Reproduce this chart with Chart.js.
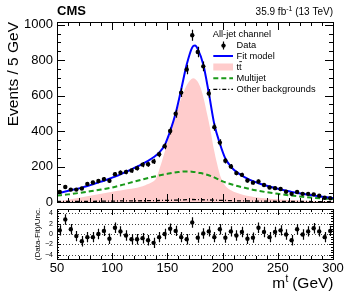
<!DOCTYPE html>
<html><head><meta charset="utf-8">
<script src="https://cdn.jsdelivr.net/npm/chart.js@4.4.1/dist/chart.umd.min.js"></script>
<style>
html,body{margin:0;padding:0;background:#fff;}
#wrap{position:relative;width:351px;height:298px;}
#wrap canvas{position:absolute;left:0;top:0;}
</style></head><body>
<div id="wrap">
<canvas id="main" width="351" height="298"></canvas>
<canvas id="ratio" width="351" height="298"></canvas>
</div>
<script>
// ---------------- data ----------------
const binCenters = [52.5,57.5,62.5,67.5,72.5,77.5,82.5,87.5,92.5,97.5,
  102.5,107.5,112.5,117.5,122.5,127.5,132.5,137.5,142.5,147.5,
  152.5,157.5,162.5,167.5,172.5,177.5,182.5,187.5,192.5,197.5,
  202.5,207.5,212.5,217.5,222.5,227.5,232.5,237.5,242.5,247.5,
  252.5,257.5,262.5,267.5,272.5,277.5,282.5,287.5,292.5,297.5];
const dataEvents = [56,85,70,70,76,102,110,118,129,120,
  157,165,169,178,191,211,213,229,269,315,
  400,498,617,747,940,846,765,612,422,335,
  233,200,163,153,121,109,116,96,82,78,
  73,58,46,56,46,46,43,35,24,21];
const dataErr = [7.5,9.2,8.4,8.4,8.7,10.1,10.5,10.9,11.4,11.0,
  12.5,12.8,13.0,13.3,13.8,14.5,14.6,15.1,16.4,17.7,
  20.0,22.3,24.8,27.3,30.7,29.1,27.7,24.7,20.5,18.3,
  15.3,14.1,12.8,12.4,11.0,10.4,10.8,9.8,9.1,8.8,
  8.5,7.6,6.8,7.5,6.8,6.8,6.6,5.9,4.9,4.6];
const pulls = [0.7,2.8,0.9,-0.4,-1.4,-0.6,-0.6,0.0,0.6,-0.9,
  1.2,0.5,-0.3,-1.0,-1.0,-0.8,-1.2,-1.7,-0.6,0.0,
  1.0,0.6,-0.6,-1.0,2.2,-0.7,0.1,0.5,-0.6,0.9,
  -0.7,0.5,-0.3,0.4,-0.9,-0.7,1.2,0.4,-0.6,0.4,
  0.7,-0.1,-1.2,0.9,-0.1,0.5,1.1,0.5,-0.6,0.6];
const pullErr = [1,1,1,1,1,1,1,1,1,1, 1,1,1,1,1,1,1,1,1,1, 1,1,1,1,1,1,1,1,1,1,
  1,1,1,1,1,1,1,1,1,1, 1,1,1,1,1,1,1,1,1,1];

const fitX = [50,52.5,57.5,62.5,67.5,72.5,77.5,82.5,87.5,92.5,97.5,
  102.5,107.5,112.5,117.5,122.5,127.5,132.5,137.5,142.5,147.5,
  152.5,157.5,162.5,167.5,172.5,175,177.5,182.5,187.5,192.5,197.5,
  202.5,207.5,212.5,217.5,222.5,227.5,232.5,237.5,242.5,247.5,
  252.5,257.5,262.5,267.5,272.5,277.5,282.5,287.5,292.5,297.5,300];
const fitY = [48,52,59,66,73,81,90,100,110,120,131,
  143,156,170,184,199,215,232,252,278,320,
  400,500,635,775,872,882,862,775,615,438,330,
  245,200,170,149,132,118,106,96,87,79,
  71,64,57,51,46,41,36,32,28,24,22];

const ttX = [50,55,60,65,70,75,80,85,90,95,100,105,110,115,120,125,130,135,140,143,146,150,155,160,165,170,173.5,
  177,180,183,186,189,192,195,198,201,204,208,212,216,222,230,240,250,260,270,280,290,300];
const ttY = [3,7,12,18,24,30,35,41,47,52,58,63,68,73,78,85,95,108,135,190,250,335,445,540,625,682,698,
  682,645,580,495,405,300,215,145,105,82,65,53,45,35,27,20,15,11,8,6,4,3];

const mjX = [50,60,70,80,90,100,110,120,130,140,150,160,166,172,180,190,200,210,220,230,240,250,260,270,280,290,300];
const mjY = [36,43,51,60,70,82,98,115,131,146,159,169,172,171,163,145,116,96,80,66,55,46,38,31,25,20,17];

const otherX = [50,80,110,140,160,172,185,200,220,250,300];
const otherY = [4,4,6,8,11,14,12,9,6,4,2];

const xTicks = [50,100,150,200,250,300];
const yTicksMain = [0,200,400,600,800,1000];
const yTicksPull = [-4,-2,0,2,4];

// ---------------- styling ----------------
const FONT = "'Liberation Sans', Arial, Helvetica, sans-serif";
const C_TT = '#ffcccc', C_FIT = '#0000ff', C_MJ = '#1a9a1a', C_OTHER = '#000000';
const pts = (xs, ys) => xs.map((x, i) => ({x, y: ys[i]}));

function frameTicks(cfg) {
  return {
    id: 'frameTicks',
    afterDraw(chart) {
      const {ctx, chartArea: a, scales: {x, y}} = chart;
      ctx.save();
      ctx.strokeStyle = '#000'; ctx.lineWidth = 1; ctx.setLineDash([]);
      ctx.beginPath();
      const seg = (x1, y1, x2, y2) => { ctx.moveTo(x1, y1); ctx.lineTo(x2, y2); };
      for (let v = x.min; v <= x.max + 1e-9; v += cfg.xMinor) {
        const px = Math.round(x.getPixelForValue(v)) + 0.5;
        const major = xTicks.some(m => Math.abs(m - v) < 1e-6);
        const L = major ? cfg.xLenMajor : cfg.xLenMinor;
        seg(px, a.bottom, px, a.bottom - L);
        seg(px, a.top, px, a.top + L);
      }
      const yStart = Math.ceil(y.min / cfg.yMinor) * cfg.yMinor;
      for (let v = yStart; v <= y.max + 1e-9; v += cfg.yMinor) {
        const py = Math.round(y.getPixelForValue(v)) + 0.5;
        const major = cfg.yMajor.some(m => Math.abs(m - v) < 1e-6);
        const L = major ? cfg.yLenMajor : cfg.yLenMinor;
        seg(a.left, py, a.left + L, py);
        seg(a.right, py, a.right - L, py);
      }
      ctx.stroke();
      ctx.strokeRect(Math.round(a.left) + 0.5, Math.round(a.top) + 0.5,
        Math.round(a.right - a.left), Math.round(a.bottom - a.top));
      ctx.restore();
    }
  };
}

function errorBars(dsIndex, vals, errs) {
  return {
    id: 'errorBars' + dsIndex,
    beforeDatasetDraw(chart, args) {
      if (args.index !== dsIndex) return;
      const {ctx, scales: {y}} = chart;
      const meta = chart.getDatasetMeta(dsIndex);
      ctx.save();
      ctx.strokeStyle = '#000'; ctx.lineWidth = 1.2;
      ctx.beginPath();
      meta.data.forEach((el, i) => {
        const x = Math.round(el.x) + 0.5;
        ctx.moveTo(x, y.getPixelForValue(vals[i] + errs[i]));
        ctx.lineTo(x, y.getPixelForValue(vals[i] - errs[i]));
      });
      ctx.stroke();
      ctx.restore();
    }
  };
}

const textPlugin = {
  id: 'mainText',
  afterDraw(chart) {
    const ctx = chart.ctx;
    ctx.save();
    ctx.fillStyle = '#000';
    ctx.textBaseline = 'alphabetic';
    // CMS
    ctx.font = 'bold 13px ' + FONT;
    ctx.textAlign = 'left';
    ctx.fillText('CMS', 57, 14.5);
    // lumi
    const right = 333, base = 15;
    ctx.font = '10px ' + FONT;
    const p3 = ' (13 TeV)';
    const w3 = ctx.measureText(p3).width;
    ctx.font = '7px ' + FONT;
    const p2 = '-1';
    const w2 = ctx.measureText(p2).width;
    ctx.font = '10px ' + FONT;
    const p1 = '35.9 fb';
    const w1 = ctx.measureText(p1).width;
    let xx = right - w1 - w2 - w3;
    ctx.fillText(p1, xx, base); xx += w1;
    ctx.font = '7px ' + FONT; ctx.fillText(p2, xx, base - 4); xx += w2;
    ctx.font = '10px ' + FONT; ctx.fillText(p3, xx, base);

    // legend
    ctx.font = '9.3px ' + FONT;
    ctx.textBaseline = 'middle';
    ctx.fillText('All-jet channel', 212.7, 34);
    const tx = 236.5, sx1 = 213.3, sx2 = 233;
    // Data
    ctx.beginPath(); ctx.lineWidth = 1.2; ctx.strokeStyle = '#000';
    ctx.moveTo(223.5, 41.5); ctx.lineTo(223.5, 49.5); ctx.stroke();
    ctx.beginPath(); ctx.arc(223.5, 45.6, 2.2, 0, Math.PI * 2); ctx.fill();
    ctx.fillText('Data', tx, 45.6);
    // Fit
    ctx.beginPath(); ctx.lineWidth = 2; ctx.strokeStyle = C_FIT;
    ctx.moveTo(sx1, 56); ctx.lineTo(sx2, 56); ctx.stroke();
    ctx.fillText('Fit model', tx, 56);
    // tt with bar over second t
    ctx.fillStyle = C_TT; ctx.fillRect(sx1, 63.5, sx2 - sx1, 7);
    ctx.fillStyle = '#000';
    const wt = ctx.measureText('t').width;
    ctx.fillText('tt', tx, 67.3);
    ctx.beginPath(); ctx.lineWidth = 0.8; ctx.strokeStyle = '#000';
    ctx.moveTo(tx + wt + 0.2, 61.6); ctx.lineTo(tx + 2 * wt + 0.3, 61.6); ctx.stroke();
    // Multijet
    ctx.beginPath(); ctx.lineWidth = 2; ctx.strokeStyle = C_MJ; ctx.setLineDash([5, 3]);
    ctx.moveTo(sx1, 78.3); ctx.lineTo(sx2, 78.3); ctx.stroke();
    ctx.fillText('Multijet', tx, 78.3);
    // Other
    ctx.beginPath(); ctx.lineWidth = 1.3; ctx.strokeStyle = C_OTHER; ctx.setLineDash([4, 2, 1, 2]);
    ctx.moveTo(sx1, 89.3); ctx.lineTo(sx2, 89.3); ctx.stroke();
    ctx.setLineDash([]);
    ctx.fillText('Other backgrounds', tx, 89.3);
    ctx.restore();
  }
};

const xTitlePlugin = {
  id: 'xTitle',
  afterDraw(chart) {
    const ctx = chart.ctx;
    ctx.save();
    ctx.fillStyle = '#000';
    ctx.textBaseline = 'alphabetic';
    const base = 287.5, right = 333.5;
    ctx.font = '15.5px ' + FONT;
    const a = 'm', c = ' (GeV)';
    const wa = ctx.measureText(a).width, wc = ctx.measureText(c).width;
    ctx.font = '10px ' + FONT;
    const b = 't';
    const wb = ctx.measureText(b).width;
    let x = right - wa - wb - wc;
    ctx.font = '15.5px ' + FONT; ctx.fillText(a, x, base); x += wa;
    ctx.font = '10px ' + FONT; ctx.fillText(b, x + 0.5, base - 6); x += wb;
    ctx.font = '15.5px ' + FONT; ctx.fillText(c, x, base);
    ctx.restore();
  }
};

const pullGrid = {
  id: 'pullGrid',
  beforeDatasetsDraw(chart) {
    const {ctx, chartArea: a, scales: {y}} = chart;
    ctx.save();
    ctx.strokeStyle = '#444'; ctx.lineWidth = 1; ctx.setLineDash([1, 2]);
    yTicksPull.forEach(v => {
      const py = Math.round(y.getPixelForValue(v)) + 0.5;
      ctx.beginPath(); ctx.moveTo(a.left, py); ctx.lineTo(a.right, py); ctx.stroke();
    });
    ctx.restore();
  }
};

// ---------------- main panel ----------------
new Chart(document.getElementById('main'), {
  type: 'line',
  data: {
    datasets: [
      { label: 'tt', data: pts(ttX, ttY), fill: 'origin', backgroundColor: C_TT, borderWidth: 0,
        borderColor: 'rgba(0,0,0,0)', pointRadius: 0, cubicInterpolationMode: 'monotone', order: 5 },
      { label: 'Multijet', data: pts(mjX, mjY), fill: false, borderColor: C_MJ, borderWidth: 2,
        borderDash: [5, 3], pointRadius: 0, cubicInterpolationMode: 'monotone', order: 4 },
      { label: 'Other backgrounds', data: pts(otherX, otherY), fill: false, borderColor: C_OTHER, borderWidth: 1.3,
        borderDash: [4, 2, 1, 2], pointRadius: 0, cubicInterpolationMode: 'monotone', order: 3 },
      { label: 'Fit model', data: pts(fitX, fitY), fill: false, borderColor: C_FIT, borderWidth: 2,
        pointRadius: 0, cubicInterpolationMode: 'monotone', order: 2 },
      { label: 'Data', data: pts(binCenters, dataEvents), showLine: false, pointRadius: 2.2,
        pointBackgroundColor: '#000', pointBorderColor: '#000', pointBorderWidth: 0, order: 1 }
    ]
  },
  options: {
    responsive: false, animation: false, devicePixelRatio: 1,
    layout: { padding: { left: 0, right: 18, top: 22, bottom: 96 } },
    plugins: { legend: { display: false }, tooltip: { enabled: false }, title: { display: false } },
    scales: {
      x: { type: 'linear', min: 50, max: 300, display: false },
      y: {
        type: 'linear', min: 0, max: 1015,
        afterBuildTicks: s => { s.ticks = yTicksMain.map(v => ({ value: v })); },
        afterFit: s => { s.width = 57; s.paddingTop = 0; s.paddingBottom = 0; },
        grid: { display: false, drawTicks: false },
        border: { display: false },
        ticks: { font: { family: FONT, size: 13 }, color: '#000', padding: 4, autoSkip: false,
          callback: v => String(v) },
        title: { display: true, text: 'Events / 5 GeV', align: 'end', color: '#000',
          font: { family: FONT, size: 15.5 }, padding: { top: 4, bottom: 0 } }
      }
    }
  },
  plugins: [errorBars(4, dataEvents, dataErr), frameTicks({
    xMinor: 10, xLenMajor: 8, xLenMinor: 4, yMajor: yTicksMain, yMinor: 50, yLenMajor: 8, yLenMinor: 4
  }), textPlugin]
});

// ---------------- pull panel ----------------
new Chart(document.getElementById('ratio'), {
  type: 'line',
  data: {
    datasets: [
      { label: 'Pull', data: pts(binCenters, pulls), showLine: false, pointRadius: 2.2,
        pointBackgroundColor: '#000', pointBorderColor: '#000', pointBorderWidth: 0 }
    ]
  },
  options: {
    responsive: false, animation: false, devicePixelRatio: 1,
    layout: { padding: { left: 0, right: 18, top: 209, bottom: 0 } },
    plugins: { legend: { display: false }, tooltip: { enabled: false }, title: { display: false } },
    scales: {
      x: {
        type: 'linear', min: 50, max: 300,
        afterBuildTicks: s => { s.ticks = xTicks.map(v => ({ value: v })); },
        afterFit: s => { s.height = 39; s.paddingLeft = 0; s.paddingRight = 0; },
        grid: { display: false, drawTicks: false },
        border: { display: false },
        ticks: { font: { family: FONT, size: 13 }, color: '#000', padding: 2, autoSkip: false, maxRotation: 0,
          callback: v => String(v) }
      },
      y: {
        type: 'linear', min: -4.8, max: 4.8,
        afterBuildTicks: s => { s.ticks = yTicksPull.map(v => ({ value: v })); },
        afterFit: s => { s.width = 57; s.paddingTop = 0; s.paddingBottom = 0; },
        grid: { display: false, drawTicks: false },
        border: { display: false },
        ticks: { font: { family: FONT, size: 7 }, color: '#000', padding: 4, autoSkip: false,
          callback: v => String(v).replace('-', '\u2212') },
        title: { display: true, text: '(Data-Fit)/Unc.', align: 'center', color: '#000',
          font: { family: FONT, size: 8 }, padding: { top: 33, bottom: 0 } }
      }
    }
  },
  plugins: [pullGrid, errorBars(0, pulls, pullErr), frameTicks({
    xMinor: 10, xLenMajor: 6, xLenMinor: 3, yMajor: yTicksPull, yMinor: 0.5, yLenMajor: 4, yLenMinor: 2
  }), xTitlePlugin]
});
</script>
</body></html>
